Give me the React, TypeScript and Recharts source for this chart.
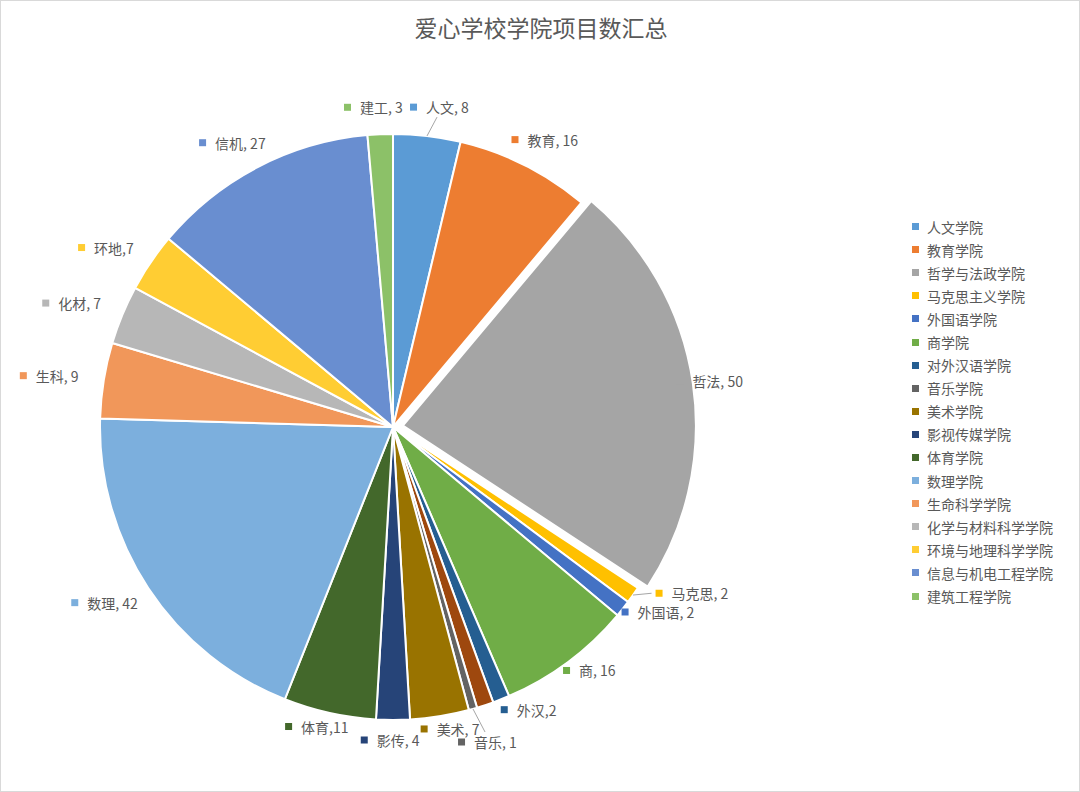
import { PieChart, Pie, Cell, Legend } from 'recharts';

const names = [
  '人文学院', '教育学院', '哲学与法政学院', '马克思主义学院', '外国语学院', '商学院',
  '对外汉语学院', '', '音乐学院', '美术学院', '影视传媒学院', '体育学院', '数理学院',
  '生命科学学院', '化学与材料科学学院', '环境与地理科学学院', '信息与机电工程学院', '建筑工程学院',
];
const shortLabels = [
  '人文, 8', '教育, 16', '哲法, 50', '马克思, 2', '外国语, 2', '商, 16', '外汉,2', '',
  '音乐, 1', '美术, 7', '影传, 4', '体育,11', '数理, 42', '生科, 9', '化材, 7', '环地,7',
  '信机, 27', '建工, 3',
];
const values = [8, 16, 50, 2, 2, 16, 2, 2, 1, 7, 4, 11, 42, 9, 7, 7, 27, 3];
const colors = [
  '#5B9BD5', '#ED7D31', '#A5A5A5', '#FFC000', '#4472C4', '#70AD47', '#255E91', '#9E480E',
  '#636363', '#997300', '#264478', '#43682B', '#7CAFDD', '#F1975A', '#B7B7B7', '#FFCD33',
  '#698ED0', '#8CC168',
];

const data = names.map((name, i) => ({ name, value: values[i], label: shortLabels[i] }));

const EXPLODED = 2;
const RAD = Math.PI / 180;
const TEXT = '#595959';
const FONT = '"Noto Sans CJK SC", "Noto Sans", sans-serif';

// hand nudges [dx, dy, leader line] for labels Excel moved around
const nudges: Record<number, [number, number, boolean]> = {
  0: [9, -6, true],
  1: [0, -5, false],
  2: [-20, 0, false],
  3: [18, -15, true],
  4: [-4, -11, false],
  5: [-2, -10, false],
  6: [13, -11, false],
  8: [4, 11, true],
  9: [5, -10, false],
  10: [-1, -3, false],
  11: [-1, -9, false],
  12: [-1, 2, false],
  13: [-8, -1, false],
  14: [-7, -3, false],
  15: [-7, -2, false],
  16: [-1, -4, false],
  17: [-3, -4, false],
};

const textWidth = (s: string) =>
  s.split('').reduce((w, c) => w + (/[\u4e00-\u9fff]/.test(c) ? 14 : c === ' ' ? 3.5 : 7.5), 0);

const renderLabel = (props: any) => {
  const { cx, cy, midAngle, outerRadius, index } = props;
  const item = data[index];
  if (!item.label) return null;
  const r = outerRadius + 14;
  const sin = Math.sin(-midAngle * RAD);
  const cos = Math.cos(-midAngle * RAD);
  const px = cx + r * cos;
  const py = cy + r * sin;
  const w = 16 + textWidth(item.label);
  const h = 18;
  const f = (1 - cos) / 2;
  const g = (1 - sin) / 2;
  const [dx, dy, line] = nudges[index] || [0, 0, false];
  const left = px - w * f + dx;
  const top = py - h * g + dy;
  const midY = top + h / 2;
  const ex = cx + outerRadius * cos;
  const ey = cy + outerRadius * sin;
  let lx = left + w / 2;
  let ly = top - 1;
  if (index === 0) {
    lx = left + 27;
    ly = top + h + 1;
  } else if (index === 3) {
    lx = left - 4;
    ly = midY;
  } else if (index === 8) {
    lx = left + 27;
    ly = top - 1;
  }
  return (
    <g key={`lbl-${index}`}>
      {line && <line x1={ex} y1={ey} x2={lx} y2={ly} stroke="#A6A6A6" strokeWidth={1} />}
      <rect x={left} y={midY - 3.5} width={7} height={7} fill={colors[index]} />
      <text
        x={left + 16}
        y={midY}
        dominantBaseline="central"
        fontSize={14}
        fill={TEXT}
        fontFamily={FONT}
      >
        {item.label}
      </text>
    </g>
  );
};

const LegendContent = () => (
  <div style={{ fontFamily: FONT, fontSize: 14, color: TEXT }}>
    {data.map((d, i) =>
      d.name ? (
        <div key={d.name} style={{ display: 'flex', alignItems: 'center', height: 23.1 }}>
          <span style={{ width: 7, height: 7, background: colors[i], marginRight: 8 }} />
          <span>{d.name}</span>
        </div>
      ) : null,
    )}
  </div>
);

export default function App() {
  const total = values.reduce((a, b) => a + b, 0);
  const before = values.slice(0, EXPLODED).reduce((a, b) => a + b, 0);
  const mid = 90 - ((before + values[EXPLODED] / 2) / total) * 360;
  const off = 10;
  return (
    <div
      style={{
        position: 'relative',
        width: 1080,
        height: 792,
        boxSizing: 'border-box',
        border: '1px solid #D9D9D9',
        background: '#fff',
        fontFamily: FONT,
      }}
    >
      <style>{'body{margin:0}'}</style>
      <div
        style={{
          position: 'absolute',
          top: 11,
          left: 0,
          width: 1080,
          textAlign: 'center',
          fontSize: 23,
          color: TEXT,
          lineHeight: '30px',
        }}
      >
        爱心学校学院项目数汇总
      </div>
      <PieChart
        width={1078}
        height={790}
        margin={{ top: 0, right: 0, bottom: 0, left: 0 }}
        style={{ position: 'absolute', top: 0, left: 0 }}
      >
        <Pie
          data={data}
          dataKey="value"
          cx={392}
          cy={426}
          outerRadius={293}
          startAngle={90}
          endAngle={-270}
          stroke="#fff"
          strokeWidth={2}
          label={renderLabel}
          labelLine={false}
          isAnimationActive={false}
        >
          {data.map((_, i) => (
            <Cell key={i} fill={i === EXPLODED ? 'transparent' : colors[i]} stroke={i === EXPLODED ? 'none' : '#fff'} />
          ))}
        </Pie>
        <Pie
          data={data}
          dataKey="value"
          cx={392 + off * Math.cos(mid * RAD)}
          cy={426 - off * Math.sin(mid * RAD)}
          outerRadius={293}
          startAngle={90}
          endAngle={-270}
          stroke="none"
          isAnimationActive={false}
          label={false}
          labelLine={false}
        >
          {data.map((_, i) => (
            <Cell key={i} fill={i === EXPLODED ? colors[i] : 'transparent'} stroke={i === EXPLODED ? '#fff' : 'none'} strokeWidth={2} />
          ))}
        </Pie>
        <Legend
          layout="vertical"
          verticalAlign="top"
          align="right"
          content={<LegendContent />}
          wrapperStyle={{ left: 911, top: 214, width: 170 }}
        />
      </PieChart>
    </div>
  );
}
